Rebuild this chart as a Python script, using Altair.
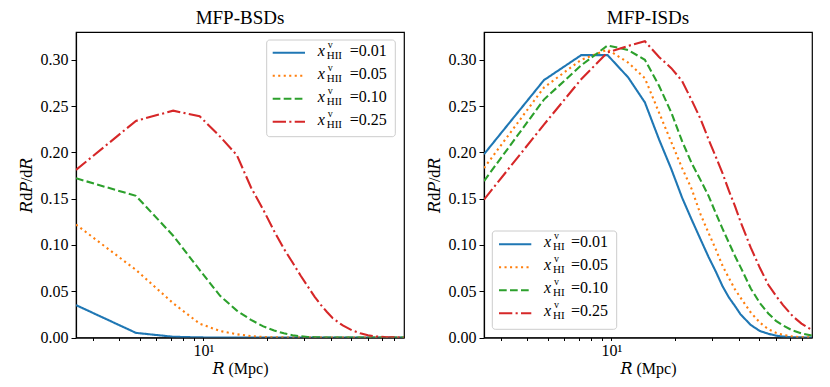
import altair as alt
import pandas as pd

FONT = "Liberation Serif"
TFONT = "Liberation Serif, DejaVu Serif, serif"

R = [2.5, 4.8, 7.2, 9.6, 12, 14.4, 16.8, 19.2, 21.6, 24, 26.4, 28.8, 31.2, 33.6,
     36, 38.4, 40.8, 45.6, 50.4, 55.2, 60, 64.8, 72, 79.2, 88.8]
fractions = ["0.01", "0.05", "0.10", "0.25"]

# MFP-BSDs
bsd_001 = [0.035, 0.005, 0.0008, 0.0001, 0, 0, 0, 0, 0, 0, 0, 0, 0, 0,
           0, 0, 0, 0, 0, 0, 0, 0, 0, 0, 0]
bsd_005 = [0.122, 0.073, 0.037, 0.015, 0.007, 0.0035, 0.0015, 0.0006, 0.0002, 0.0001, 0, 0, 0, 0,
           0, 0, 0, 0, 0, 0, 0, 0, 0, 0, 0]
bsd_010 = [0.172, 0.153, 0.110, 0.073, 0.045, 0.029, 0.019, 0.012, 0.0075, 0.0045, 0.0025, 0.0013, 0.0006, 0.0003,
           0.0001, 0, 0, 0, 0, 0, 0, 0, 0, 0, 0]
bsd_025 = [0.181, 0.234, 0.245, 0.239, 0.217, 0.197, 0.162, 0.138, 0.115, 0.096, 0.081, 0.067, 0.055, 0.044,
           0.035, 0.0275, 0.021, 0.013, 0.0078, 0.0045, 0.0024, 0.0012, 0.0004, 0.0001, 0.0]

# MFP-ISDs
isd_001 = [0.198, 0.278, 0.305, 0.305, 0.281, 0.254, 0.214, 0.182, 0.151, 0.127, 0.106, 0.087, 0.071, 0.055,
           0.043, 0.034, 0.025, 0.0135, 0.007, 0.004, 0.002, 0.001, 0.0003, 0.0001, 0.0]
isd_005 = [0.183, 0.270, 0.300, 0.311, 0.297, 0.280, 0.243, 0.211, 0.183, 0.160, 0.133, 0.113, 0.095, 0.077,
           0.064, 0.052, 0.043, 0.027, 0.016, 0.009, 0.005, 0.0028, 0.001, 0.0004, 0.0001]
isd_010 = [0.169, 0.257, 0.294, 0.3155, 0.3105, 0.300, 0.272, 0.243, 0.212, 0.188, 0.170, 0.153, 0.134, 0.117,
           0.102, 0.088, 0.076, 0.053, 0.037, 0.026, 0.018, 0.013, 0.0075, 0.0045, 0.002]
isd_025 = [0.149, 0.230, 0.279, 0.308, 0.315, 0.320, 0.303, 0.291, 0.277, 0.256, 0.236, 0.214, 0.195, 0.177,
           0.158, 0.142, 0.125, 0.097, 0.075, 0.057, 0.045, 0.035, 0.023, 0.015, 0.008]

colors = ["#1f77b4", "#ff7f0e", "#2ca02c", "#d62728"]
dashes = [[1, 0], [2.1, 3.4], [7.7, 3.3], [13.3, 3.3, 2.1, 3.3]]
x_ticks = [3, 4, 5, 6, 7, 8, 9, 10, 20, 30, 40, 50, 60, 70, 80]
y_ticks = [0.0, 0.05, 0.10, 0.15, 0.20, 0.25, 0.30]

W, H = 328, 305.5

AX = dict(grid=False, domainColor="black", domainWidth=1.2, tickColor="black", tickWidth=1,
          labelColor="black", labelFont=FONT, labelFontSize=16,
          titleFont=TFONT, titleFontSize=16, titleFontWeight="normal", titleColor="black")


def panel(series, title, sub, box, sample_x, text_x, row_y):
    rows = []
    for f, vals in zip(fractions, series):
        for r, v in zip(R, vals):
            rows.append({"R": r, "P": v, "s": f})
    df = pd.DataFrame(rows)

    color = alt.Color("s:N", scale=alt.Scale(domain=fractions, range=colors), legend=None)
    dash = alt.StrokeDash("s:N", scale=alt.Scale(domain=fractions, range=dashes), legend=None)

    x = alt.X("R:Q",
              scale=alt.Scale(type="log", domain=[R[0], R[-1]], nice=False),
              axis=alt.Axis(values=x_ticks, labelExpr="datum.value == 10 ? '10¹' : ''",
                            tickSize=3, labelPadding=2, title="𝑅 (Mpc)", titlePadding=2,
                            labelFlush=False, labelOverlap=False, **AX))
    y = alt.Y("P:Q",
              scale=alt.Scale(domain=[0, 0.33], nice=False),
              axis=alt.Axis(values=y_ticks, format=".2f", tickSize=5, labelPadding=3,
                            title="𝑅d𝑃/d𝑅", titlePadding=6, **AX))

    lines = alt.Chart(df).mark_line(strokeWidth=2.1, clip=True).encode(
        x=x, y=y, color=color, strokeDash=dash)

    leg = pd.DataFrame({
        "s": fractions,
        "ly": [row_y + 23 * i for i in range(4)],
        "xs": ["x"] * 4,
        "sup": ["v"] * 4,
        "sub": [sub] * 4,
        "eq": ["=" + f for f in fractions],
    })
    leg["ym"] = leg["ly"] - 2
    leg["ysup"] = leg["ly"] - 8
    leg["ysub"] = leg["ly"] + 3

    frame = alt.Chart(pd.DataFrame({"k": [0]})).mark_rect(
        fill="white", fillOpacity=0.8, stroke="#cccccc", strokeWidth=1, cornerRadius=3
    ).encode(x=alt.value(box[0]), x2=alt.value(box[1]), y=alt.value(box[2]), y2=alt.value(box[3]))

    samples = alt.Chart(leg).mark_rule(strokeWidth=2.1).encode(
        x=alt.value(sample_x[0]), x2=alt.value(sample_x[1]),
        y=alt.Y("ly:Q", scale=None, axis=None), color=color, strokeDash=dash)

    t_x = alt.Chart(leg).mark_text(font=FONT, fontSize=16, fontStyle="italic", align="left",
                                   baseline="middle", color="black").encode(
        x=alt.value(text_x), y=alt.Y("ym:Q", scale=None, axis=None), text="xs:N")
    t_sup = alt.Chart(leg).mark_text(font=FONT, fontSize=10, align="left",
                                     baseline="middle", color="black").encode(
        x=alt.value(text_x + 10), y=alt.Y("ysup:Q", scale=None, axis=None), text="sup:N")
    t_sub = alt.Chart(leg).mark_text(font=FONT, fontSize=11, align="left",
                                     baseline="middle", color="black").encode(
        x=alt.value(text_x + 9), y=alt.Y("ysub:Q", scale=None, axis=None), text="sub:N")
    t_eq = alt.Chart(leg).mark_text(font=FONT, fontSize=16, align="left",
                                    baseline="middle", color="black").encode(
        x=alt.value(text_x + (32 if sub == "HII" else 27)),
        y=alt.Y("ym:Q", scale=None, axis=None), text="eq:N")

    return alt.layer(lines, frame, samples, t_x, t_sup, t_sub, t_eq).properties(
        width=W, height=H, title=alt.Title(title, font=FONT, fontSize=19, fontWeight="normal", offset=4))


left = panel([bsd_001, bsd_005, bsd_010, bsd_025], "MFP-BSDs", "HII",
             box=(190.7, 319.3, 8, 104.7), sample_x=(196.7, 229), text_x=241.7, row_y=20.7)
right = panel([isd_001, isd_005, isd_010, isd_025], "MFP-ISDs", "HI",
              box=(8.3, 132.7, 199, 297.3), sample_x=(15, 47.3), text_x=60, row_y=212.3)

chart = alt.hconcat(left, right, spacing=20).properties(
    padding={"left": 9, "top": 0, "right": 5, "bottom": 0}
).configure_view(stroke="black", strokeWidth=1.2).configure_axis(**AX)

chart.save("out.html", embed_options={"renderer": "svg", "actions": False})
